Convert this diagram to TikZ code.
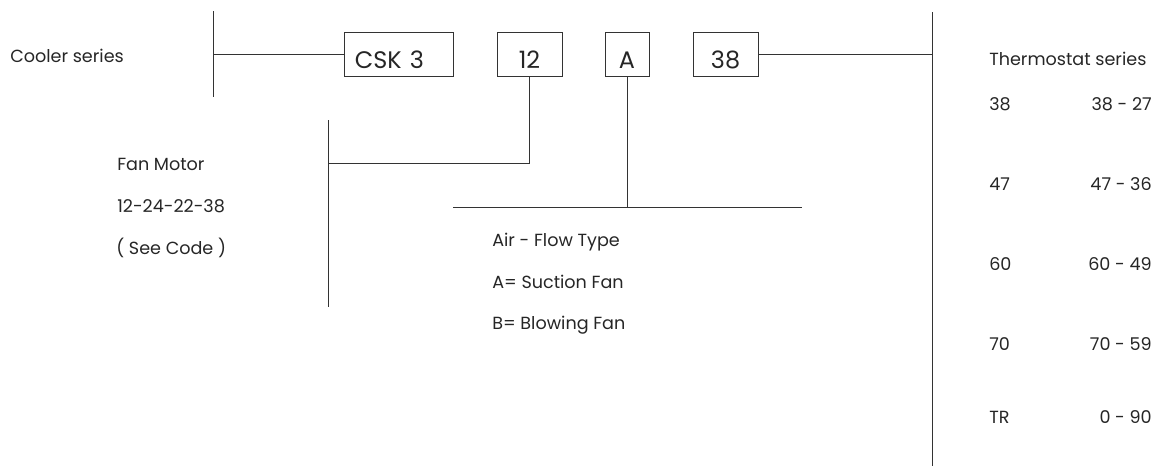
\documentclass[tikz,border=0pt]{standalone}
\usepackage{fontspec}
\setmainfont{Poppins}
\usetikzlibrary{positioning,calc}
\tikzset{codebox/.style={
            draw,
            line width=0.6pt,
            color=black!80,
            text=black!85,
            inner sep=0pt,
            minimum height=1.1cm,
            text height=0.7cm,
            text depth=0pt,
            font=\fontsize{17}{20}\selectfont
        },
        txt/.style={
            anchor=base west,
            inner sep=0pt,
            text=black!85,
            font=\fontsize{12.5}{14}\selectfont
        },
        wire/.style={
            line width=0.6pt,
            color=black!80
        }
    }
\begin{document}
\begin{tikzpicture}[x=0.025cm,y=-0.025cm]
\useasboundingbox (0,0) rectangle (1165,469);
% code boxes
\node[codebox,minimum width=2.725cm,text width=2.175cm] (csk) at (398.5,54) {CSK 3};
\node[codebox,minimum width=1.625cm] (fan) at (529.5,54) {12};
\node[codebox,minimum width=1.1cm] (air) at (627,54) {A};
\node[codebox,minimum width=1.625cm] (thermo) at (725.5,54) {38};
% bars
\coordinate (ctop) at (213,11);\coordinate (cbot) at (213,97);
\coordinate (ftop) at (328,120);\coordinate (fbot) at (328,307);
\coordinate (fknee) at (328,163);
\coordinate (aleft) at (453,207);\coordinate (aright) at (802,207);
\coordinate (rtop) at (932,12);\coordinate (rbot) at (932,466);
\draw[wire] (ctop)--(cbot);
\draw[wire] (ftop)--(fbot);
\draw[wire] (aleft)--(aright);
\draw[wire] (rtop)--(rbot);
\draw[wire] (csk.west)--(csk.west -| ctop);
\draw[wire] (fan.south)|-(fknee);
\draw[wire] (air.south)--(air.south |- aleft);
\draw[wire] (thermo.east)--(thermo.east -| rtop);
% texts
\node[txt] (cooler) at (10,62) {Cooler series};
\node[txt] (fanm) at (117,170) {Fan Motor};
\node[txt] (fanc) at (117,212) {12-24-22-38};
\node[txt] (fans) at (116,254) {( See Code )};
\node[txt] (airt) at (492,246) {Air - Flow Type};
\node[txt] (aira) at (492,288) {A= Suction Fan};
\node[txt] (airb) at (492,329) {B= Blowing Fan};
\node[txt] (thermot) at (989,65) {Thermostat series};
\foreach \a/\b/\y [count=\i] in {38/38 - 27/110,47/47 - 36/190,60/60 - 49/270,70/70 - 59/350,TR/0 - 90/423}{
  \node[txt] (tc\i) at (989,\y) {\a};
  \node[txt,anchor=base east] (tr\i) at (1152,\y) {\b};
}
\end{tikzpicture}
\end{document}
